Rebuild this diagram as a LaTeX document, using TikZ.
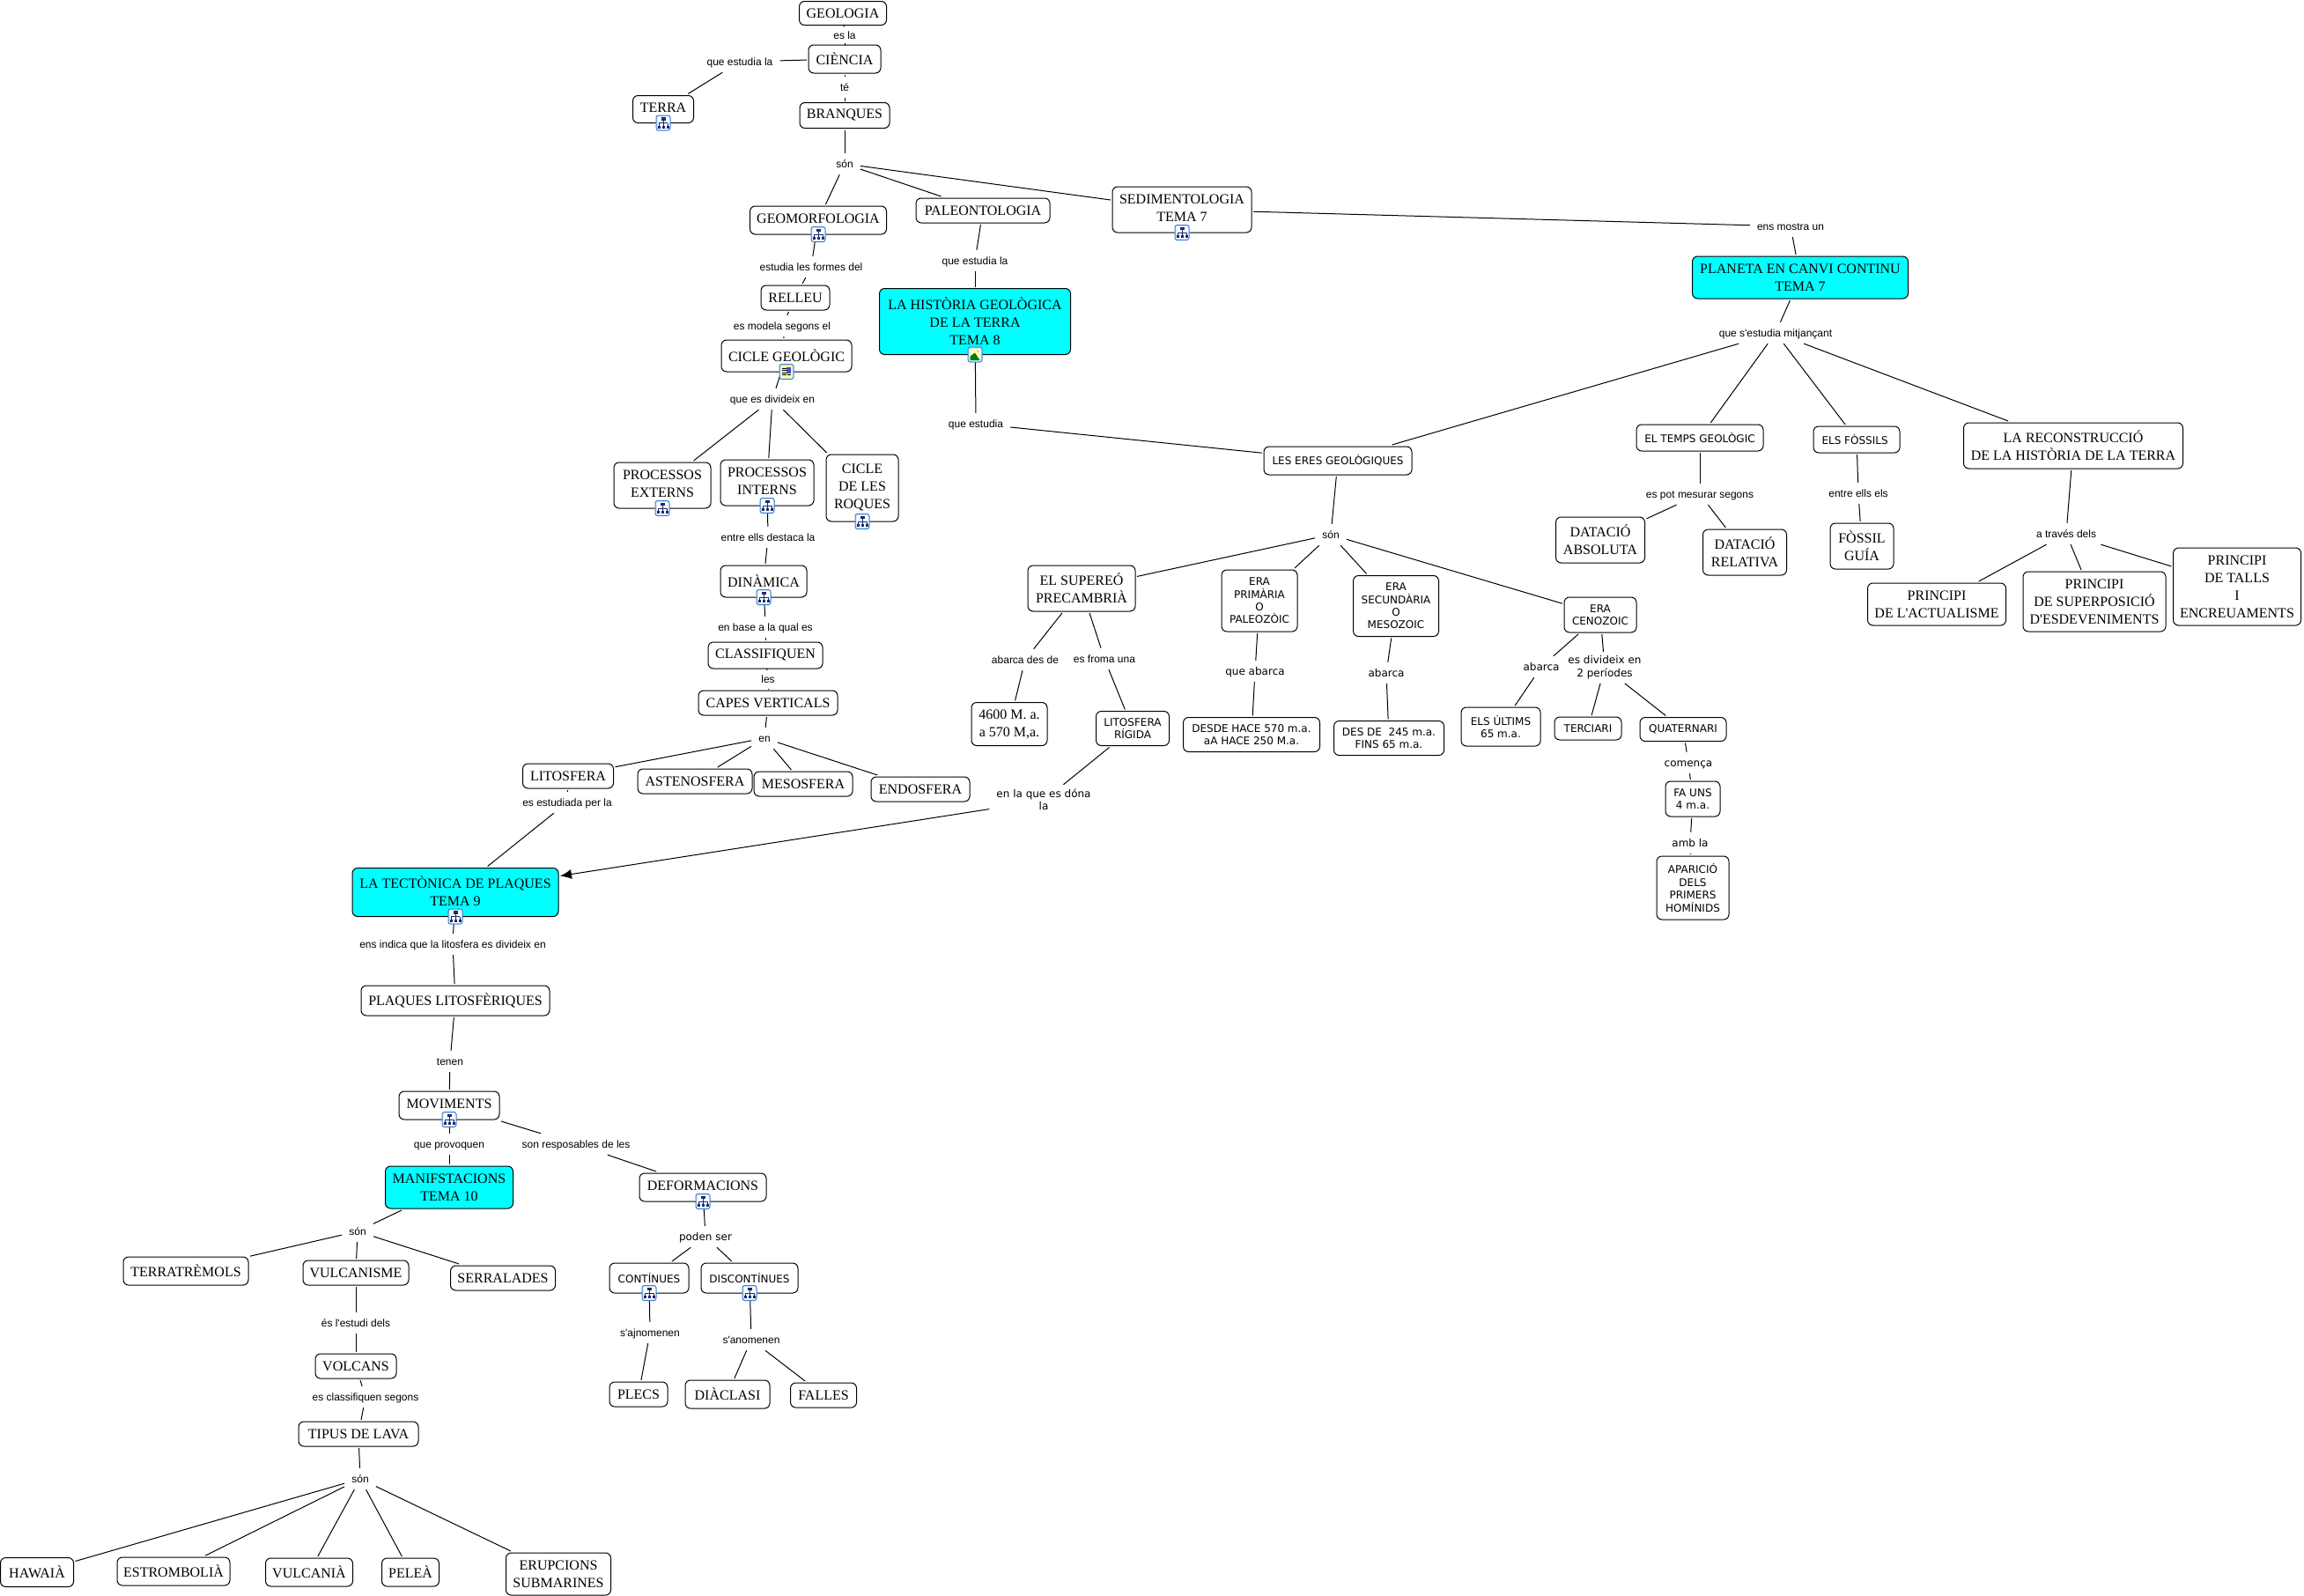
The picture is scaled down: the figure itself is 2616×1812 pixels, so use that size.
\documentclass[tikz,border=0pt]{standalone}
\usepackage{fontspec}
\newfontfamily\timesfam{Liberation Serif}
\newfontfamily\arialfam{Liberation Sans}
\newfontfamily\verdanafam{DejaVu Sans}
\usetikzlibrary{arrows.meta}
\definecolor{temacyan}{HTML}{00FFFF}
\definecolor{iconblue}{HTML}{3F7FD0}
\definecolor{iconpale}{HTML}{DCEBFA}
\definecolor{iconnavy}{HTML}{1A2A70}
\newcommand{\iconframe}{\draw[iconblue,fill=iconpale,line width=1pt,rounded corners=2.5pt] (-8,-8.5) rectangle (8,8.5);}
\newcommand{\treeicon}[1]{
  \begin{scope}[shift={(#1.south)},yshift=2pt]
    \iconframe
    \fill[white] (-6.5,-7) rectangle (6.5,7);
    \draw[iconnavy,line width=.8pt] (0,-3) -- (0,4) (-5,0) -- (5,0) (-5,0) -- (-5,4) (5,0) -- (5,4);
    \fill[iconnavy] (-2.5,-6.5) rectangle (2.5,-3);
    \fill[iconnavy] (-6.5,3) rectangle (-3.5,6);
    \fill[iconnavy] (-1.5,3) rectangle (1.5,6);
    \fill[iconnavy] (3.5,3) rectangle (6.5,6);
  \end{scope}
}
\newcommand{\imageicon}[1]{
  \begin{scope}[shift={(#1.south)},yshift=2pt]
    \iconframe
    \fill[yellow!25] (-5.5,-6.5) rectangle (5.5,6.5);
    \fill[green!50!black] (-5.5,6.5) -- (-5.5,2) -- (0,-2) -- (5.5,6.5) -- cycle;
    \fill[yellow!80!orange] (3,-3.5) circle (1.5);
  \end{scope}
}
\newcommand{\docicon}[1]{
  \begin{scope}[shift={(#1.south)},yshift=2pt]
    \iconframe
    \fill[yellow!40] (-6,-7) rectangle (6,7);
    \foreach \y in {-4,-1.5,1,3.5} \draw[black,line width=.7pt] (-5,\y) -- (-.5,\y);
    \draw[black,line width=.7pt] (.5,3.5) -- (5,3.5);
    \fill[blue!40!gray] (0,-5) rectangle (5,1.5);
  \end{scope}
}
\tikzset{
  concept/.style={draw,fill=white,rounded corners=6pt,line width=1pt,align=center,inner sep=0pt,outer sep=2pt,
    font=\timesfam\fontsize{16}{20}\selectfont},
  tema/.style={concept,fill=temacyan},
  raised/.style={execute at end node={\rule[-3pt]{0pt}{3pt}}},
  sansconcept/.style={concept,font=\verdanafam\fontsize{12}{14.4}\selectfont},
  dims/.style 2 args={minimum width=#1pt,minimum height=#2pt},
  linkword/.style={align=center,inner xsep=8pt,inner ysep=4.5pt,minimum height=24pt,
    execute at begin node={\rule{0pt}{12pt}},execute at end node={\rule[-3pt]{0pt}{3pt}},
    font=\arialfam\fontsize{12}{14.4}\selectfont},
  sanslink/.style={linkword,font=\verdanafam\fontsize{12}{14.4}\selectfont},
  link/.style={line width=1pt},
}
\begin{document}
\begin{tikzpicture}[x=1pt,y=-1pt]
  \useasboundingbox (0,0) rectangle (2616,1812);
  % concepts, column of the earth
  \node[concept,dims={99}{27}] (geologia) at (957,15) {GEOLOGIA};
  \node[concept,dims={82}{32}] (ciencia) at (959,67) {CIÈNCIA};
  \node[concept,raised,dims={69}{31}] (terra) at (753,124) {TERRA};
  \node[concept,raised,dims={102}{29}] (branques) at (959,131) {BRANQUES};
  \node[concept,raised,dims={155}{32}] (geomorf) at (929,250) {GEOMORFOLOGIA};
  \node[concept,dims={152}{28}] (paleonto) at (1116,239) {PALEONTOLOGIA};
  \node[concept,raised,dims={158}{52}] (sediment) at (1342,238) {SEDIMENTOLOGIA\\TEMA 7};
  \node[concept,dims={78}{28}] (relleu) at (903,338) {RELLEU};
  \node[concept,dims={148}{36}] (cicle) at (893,404) {CICLE GEOLÒGIC};
  \node[tema,dims={217}{75}] (historia) at (1107,365) {LA HISTÒRIA GEOLÒGICA\\DE LA TERRA\\TEMA 8};
  \node[concept,raised,dims={110}{52}] (externs) at (752,551) {PROCESSOS\\EXTERNS};
  \node[concept,raised,dims={106}{52}] (interns) at (871,548) {PROCESSOS\\INTERNS};
  \node[concept,raised,dims={82}{76}] (roques) at (979,554) {CICLE\\DE LES\\ROQUES};
  \node[concept,dims={98}{36}] (dinamica) at (867,660) {DINÀMICA};
  \node[concept,raised,dims={130}{30}] (classif) at (869,744) {CLASSIFIQUEN};
  \node[concept,dims={158}{28}] (capes) at (872,798) {CAPES VERTICALS};
  \node[concept,dims={103}{28}] (litosfera) at (645,881) {LITOSFERA};
  \node[concept,dims={130}{28}] (asteno) at (789,887) {ASTENOSFERA};
  \node[concept,dims={112}{28}] (meso) at (912,890) {MESOSFERA};
  \node[concept,dims={112}{28}] (endo) at (1045,896) {ENDOSFERA};
  % concepts, eras and history
  \node[tema,dims={245}{48}] (planeta) at (2044,315) {PLANETA EN CANVI CONTINU\\TEMA 7};
  \node[sansconcept,dims={168}{32}] (eres) at (1519,523) {LES ERES GEOLÒGIQUES};
  \node[sansconcept,dims={144}{30}] (temps) at (1930,497) {EL TEMPS GEOLÒGIC};
  \node[sansconcept,dims={98}{30}] (fossils) at (2108,499) {ELS FÒSSILS\ };
  \node[concept,dims={249}{52}] (reconstr) at (2354,506) {LA RECONSTRUCCIÓ\\DE LA HISTÒRIA DE LA TERRA};
  \node[concept,dims={101}{52}] (absoluta) at (1817,613) {DATACIÓ\\ABSOLUTA};
  \node[concept,dims={95}{52}] (relativa) at (1981,627) {DATACIÓ\\RELATIVA};
  \node[concept,dims={72}{52}] (guia) at (2114,620) {FÒSSIL\\GUÍA};
  \node[concept,dims={157}{48}] (actual) at (2199,686) {PRINCIPI\\DE L'ACTUALISME};
  \node[concept,dims={162}{68}] (superpos) at (2378,683) {PRINCIPI\\DE SUPERPOSICIÓ\\D'ESDEVENIMENTS};
  \node[concept,dims={145}{88}] (talls) at (2540,666) {PRINCIPI\\DE TALLS\\I\\ENCREUAMENTS};
  \node[concept,dims={122}{52}] (supereo) at (1228,668) {EL SUPEREÓ\\PRECAMBRIÀ};
  \node[sansconcept,dims={86}{70}] (primaria) at (1430,682) {ERA\\PRIMÀRIA\\O\\PALEOZÒIC};
  \node[sansconcept,dims={97}{69}] (secundaria) at (1585,688) {ERA\\SECUNDÀRIA\\O\\MESOZOIC};
  \node[sansconcept,dims={82}{40}] (cenozoic) at (1817,698) {ERA\\CENOZOIC};
  \node[concept,dims={86}{49}] (anys) at (1146,822) {4600 M. a.\\a 570 M,a.};
  \node[sansconcept,dims={83}{39}] (rigida) at (1286,827) {LITOSFERA\\RÍGIDA};
  \node[sansconcept,dims={155}{39}] (desde) at (1421,834) {DESDE HACE 570 m.a.\\aA HACE 250 M.a.};
  \node[sansconcept,dims={125}{39}] (desde2) at (1577,838) {DES DE\ \ 245 m.a.\\FINS 65 m.a.};
  \node[sansconcept,dims={90}{44}] (ultims) at (1704,825) {ELS ÚLTIMS\\65 m.a.};
  \node[sansconcept,dims={76}{26}] (terciari) at (1803,827) {TERCIARI};
  \node[sansconcept,dims={98}{27}] (quatern) at (1911,828) {QUATERNARI};
  \node[sansconcept,dims={62}{40}] (fauns) at (1922,907) {FA UNS\\4 m.a.};
  \node[sansconcept,dims={82}{72}] (aparicio) at (1922,1008) {APARICIÓ\\DELS\\PRIMERS\\HOMÍNIDS};
  % concepts, plates
  \node[tema,raised,dims={234}{55}] (tectonica) at (517,1013) {LA TECTÒNICA DE PLAQUES\\TEMA 9};
  \node[concept,dims={214}{34}] (plaques) at (517,1136) {PLAQUES LITOSFÈRIQUES};
  \node[concept,raised,dims={114}{32}] (moviments) at (510,1255) {MOVIMENTS};
  \node[tema,dims={145}{48}] (manif) at (510,1348) {MANIFSTACIONS\\TEMA 10};
  \node[concept,raised,dims={144}{32}] (deform) at (798,1348) {DEFORMACIONS};
  \node[concept,dims={142}{32}] (terratr) at (211,1443) {TERRATRÈMOLS};
  \node[concept,dims={120}{28}] (vulcanisme) at (404,1445) {VULCANISME};
  \node[concept,dims={119}{28}] (serra) at (571,1451) {SERRALADES};
  \node[sansconcept,dims={90}{34}] (contin) at (737,1451) {CONTÍNUES};
  \node[sansconcept,dims={110}{34}] (discont) at (851,1451) {DISCONTÍNUES};
  \node[concept,dims={92}{28}] (volcans) at (404,1551) {VOLCANS};
  \node[concept,dims={136}{28}] (lava) at (407,1628) {TIPUS DE LAVA};
  \node[concept,dims={66}{28}] (plecs) at (725,1583) {PLECS};
  \node[concept,dims={96}{32}] (diaclasi) at (826,1583) {DIÀCLASI};
  \node[concept,dims={75}{28}] (falles) at (935,1584) {FALLES};
  \node[concept,dims={83}{33}] (hawaia) at (42,1785) {HAWAIÀ};
  \node[concept,dims={128}{32}] (estromb) at (197,1784) {ESTROMBOLIÀ};
  \node[concept,dims={99}{32}] (vulcania) at (351,1785) {VULCANIÀ};
  \node[concept,dims={65}{32}] (pelea) at (466,1785) {PELEÀ};
  \node[concept,dims={119}{48}] (erupcions) at (634,1787) {ERUPCIONS\\SUBMARINES};
  % linking words
  \node[linkword] (esla) at (959,40) {es la};
  \node[linkword] (qel) at (840,70) {que estudia la};
  \node[linkword] (te) at (959,99) {té};
  \node[linkword] (son) at (959,186) {són};
  \node[linkword] (formes) at (921,303) {estudia les formes del};
  \node[linkword] (qel2) at (1107,296) {que estudia la};
  \node[linkword] (modela) at (888,370) {es modela segons el};
  \node[linkword] (qdiv) at (877,453) {que es divideix en};
  \node[linkword] (qest) at (1108,481) {que estudia};
  \node[linkword] (destaca) at (872,610) {entre ells destaca la};
  \node[linkword] (base) at (869,712) {en base a la qual es};
  \node[linkword] (les) at (872,771) {les};
  \node[linkword] (en) at (868,838) {en};
  \node[linkword] (perla) at (644,911) {es estudiada per la};
  \node[linkword] (mostra) at (2033,257) {ens mostra un};
  \node[linkword] (mitjan) at (2016,378) {que s'estudia mitjançant};
  \node[linkword] (mesurar) at (1930,561) {es pot mesurar segons};
  \node[linkword] (entreels) at (2110,560) {entre ells els};
  \node[linkword] (atraves) at (2346,606) {a través dels};
  \node[linkword] (son2) at (1511,607) {són};
  \node[linkword] (desde3) at (1164,749) {abarca des de};
  \node[linkword] (froma) at (1254,748) {es froma una};
  \node[sanslink] (qabarca) at (1425,762) {que abarca};
  \node[sanslink] (abarca) at (1574,764) {abarca};
  \node[sanslink] (abarca2) at (1750,757) {abarca};
  \node[sanslink] (periodes) at (1822,758) {es divideix en\\2 períodes};
  \node[sanslink] (comenca) at (1917,866) {comença};
  \node[sanslink] (ambla) at (1919,957) {amb la};
  \node[sanslink] (ladona) at (1185,909) {en la que es dóna\\la};
  \node[linkword] (indica) at (514,1072) {ens indica que la litosfera es divideix en};
  \node[linkword] (tenen) at (511,1205) {tenen};
  \node[linkword] (provoquen) at (510,1299) {que provoquen};
  \node[linkword] (respon) at (654,1299) {son resposables de les};
  \node[linkword] (son3) at (406,1398) {són};
  \node[sanslink] (poden) at (801,1404) {poden ser};
  \node[linkword] (estudi) at (404,1502) {és l'estudi dels};
  \node[linkword] (ajnom) at (738,1513) {s'ajnomenen};
  \node[linkword] (anom) at (853,1521) {s'anomenen};
  \node[linkword] (classifs) at (415,1586) {es classifiquen segons};
  \node[linkword] (son4) at (409,1679) {són};
  % connectors
  \foreach \a/\b in {geologia/esla,esla/ciencia,ciencia/qel,qel/terra,ciencia/te,te/branques,branques/son,
      son/geomorf,son/paleonto,son/sediment,geomorf/formes,formes/relleu,relleu/modela,modela/cicle,
      cicle/qdiv,qdiv/externs,qdiv/interns,qdiv/roques,interns/destaca,destaca/dinamica,dinamica/base,
      base/classif,classif/les,les/capes,capes/en,en/litosfera,en/asteno,en/meso,en/endo,litosfera/perla,
      perla/tectonica,paleonto/qel2,qel2/historia,historia/qest,qest/eres,sediment/mostra,mostra/planeta,
      planeta/mitjan,mitjan/eres,mitjan/temps,mitjan/fossils,mitjan/reconstr,temps/mesurar,mesurar/absoluta,
      mesurar/relativa,fossils/entreels,entreels/guia,reconstr/atraves,atraves/actual,atraves/superpos,
      atraves/talls,eres/son2,son2/supereo,son2/primaria,son2/secundaria,son2/cenozoic,supereo/desde3,
      desde3/anys,supereo/froma,froma/rigida,rigida/ladona,primaria/qabarca,qabarca/desde,secundaria/abarca,
      abarca/desde2,cenozoic/abarca2,abarca2/ultims,cenozoic/periodes,periodes/terciari,periodes/quatern,
      quatern/comenca,comenca/fauns,fauns/ambla,ambla/aparicio,tectonica/indica,indica/plaques,plaques/tenen,
      tenen/moviments,moviments/provoquen,provoquen/manif,moviments/respon,respon/deform,manif/son3,
      son3/terratr,son3/vulcanisme,son3/serra,vulcanisme/estudi,estudi/volcans,volcans/classifs,classifs/lava,
      lava/son4,son4/hawaia,son4/estromb,son4/vulcania,son4/pelea,son4/erupcions,deform/poden,poden/contin,
      poden/discont,contin/ajnom,ajnom/plecs,discont/anom,anom/diaclasi,anom/falles}
    \draw[link] (\a) -- (\b);
  \draw[link,-{Latex[length=13pt,width=11pt]}] (ladona) -- (tectonica);
  % icons on the boxes
  \foreach \conc in {terra,geomorf,sediment,externs,interns,roques,dinamica,tectonica,moviments,deform,contin,discont} {
    \treeicon{\conc}
  }
  \imageicon{historia}
  \docicon{cicle}
\end{tikzpicture}
\end{document}
